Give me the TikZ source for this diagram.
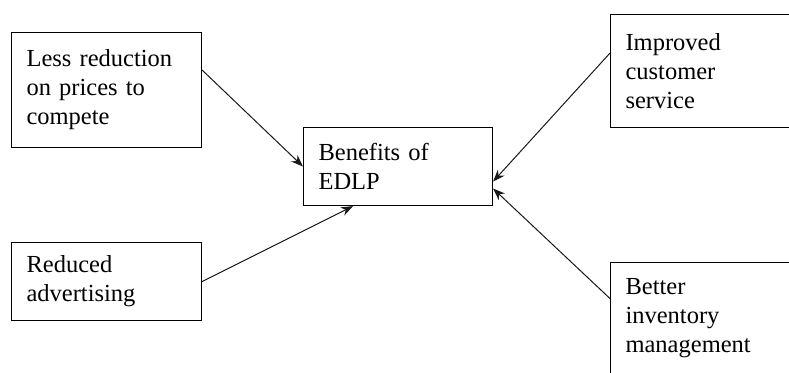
\documentclass[tikz,border=0pt]{standalone}
\usepackage{fontspec}
\setmainfont{Liberation Serif}
\usetikzlibrary{arrows.meta}
\tikzset{
  factor/.style={draw, line width=1.1pt, anchor=north west, align=left, inner xsep=15pt,
    font=\fontsize{24.5}{29}\selectfont},
  push/.style={-{Stealth[length=12pt,width=9pt]}, line width=1pt, black!90}
}
\begin{document}
\begin{tikzpicture}[x=1pt,y=-1pt]
  \clip (0,0) rectangle (789,372);

  \node[factor, minimum width=190, minimum height=115, text width=160] (less) at (11,32)
    {Less reduction\\on prices to\\compete};
  \node[factor, minimum width=189, minimum height=78, text width=159] (benefit) at (303,127)
    {Benefits of\\EDLP};
  \node[factor, minimum width=190, minimum height=78, text width=160] (reduced) at (11,242)
    {Reduced\\advertising};
  \node[factor, minimum width=181, minimum height=113, text width=151] (improved) at (610,14)
    {Improved\\customer\\service\\[6pt]};
  \node[factor, minimum width=181, minimum height=112, text width=151] (better) at (610,262)
    {Better\\inventory\\management};

  \draw[push] ([yshift=20pt]less.east) -- (benefit.west);
  \draw[push] (reduced.east) -- ([xshift=-45pt]benefit.south);
  \draw[push] ([yshift=18pt]improved.west) -- ([yshift=-15pt]benefit.east);
  \draw[push] ([yshift=20pt]better.west) -- ([yshift=-22pt]benefit.east);

\end{tikzpicture}
\end{document}
